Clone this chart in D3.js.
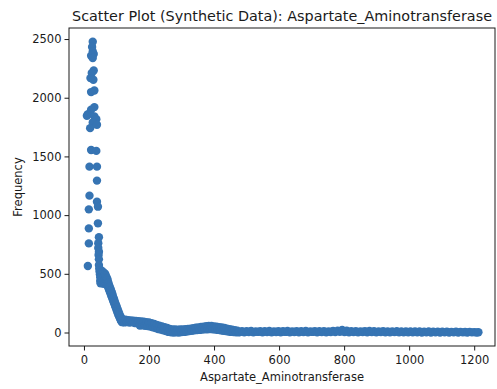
<!DOCTYPE html>
<html>
<head>
<meta charset="utf-8">
<script src="https://cdn.jsdelivr.net/npm/d3@7"></script>
<style>
  html, body { margin: 0; padding: 0; background: #fff; }
  svg { display: block; font-family: "DejaVu Sans", sans-serif; }
</style>
</head>
<body>
<svg id="chart" width="497" height="389"></svg>
<script>
// ---- Data ----
const titleText = "Scatter Plot (Synthetic Data): Aspartate_Aminotransferase";
const xLabel = "Aspartate_Aminotransferase";
const yLabel = "Frequency";
const xTicks = [0, 200, 400, 600, 800, 1000, 1200];
const yTicks = [0, 500, 1000, 1500, 2000, 2500];

// isolated points of the spike at low values
const spikeX = [27, 25, 27, 30, 22, 27, 30, 24, 20, 29, 32, 22, 32, 22, 12, 9, 32, 38, 27, 19, 40, 22, 38, 17, 40, 40, 17, 40, 15, 43, 43, 15, 46, 15, 44, 44, 46, 45, 46, 12, 46];
const spikeY = [2477, 2432, 2394, 2372, 2357, 2338, 2232, 2210, 2167, 2153, 2062, 2048, 1920, 1897, 1860, 1846, 1840, 1817, 1789, 1741, 1769, 1555, 1547, 1413, 1413, 1294, 1166, 1114, 1049, 1072, 930, 887, 811, 759, 760, 720, 688, 660, 623, 566, 574];

// dense band: shoulder and steep drop
const dropX = [47, 48, 49, 50, 50, 51, 52, 53, 54, 55, 56, 57, 58, 59, 60, 61, 62, 63, 64, 65, 66, 67, 68, 69, 70, 71, 72, 73, 74, 75, 76, 77, 78, 79, 80, 81, 82, 83, 84, 85, 86, 87, 88, 89, 90, 91, 92, 93, 94, 95, 96, 97, 98, 99, 100, 101, 102, 103, 104, 105, 106, 107, 108, 109, 110, 111, 112, 113, 114, 115, 116, 117, 118];
const dropY = [545, 520, 495, 470, 440, 420, 530, 455, 505, 480, 430, 520, 460, 495, 415, 510, 445, 480, 425, 500, 455, 485, 420, 470, 440, 460, 405, 445, 390, 425, 375, 405, 360, 390, 345, 375, 330, 360, 315, 345, 300, 330, 285, 310, 270, 295, 255, 280, 240, 260, 225, 245, 210, 230, 195, 215, 180, 200, 165, 185, 150, 170, 138, 155, 125, 142, 112, 130, 100, 120, 92, 112, 88];

// dense band: plateau, dip and bump
const midX = [120, 124, 128, 132, 136, 140, 144, 148, 152, 156, 160, 164, 168, 172, 176, 180, 184, 188, 192, 196, 200, 204, 208, 212, 216, 220, 224, 228, 232, 236, 240, 244, 248, 252, 256, 260, 264, 268, 272, 276, 280, 284, 288, 292, 296, 300, 304, 308, 312, 316, 320, 324, 328, 332, 336, 340, 344, 348, 352, 356, 360, 364, 368, 372, 376, 380, 384, 388, 392, 396, 400, 404, 408, 412, 416, 420, 424, 428, 432, 436, 440, 444, 448, 452, 456, 460, 464, 468, 472, 476];
const midY = [110, 86, 108, 90, 105, 85, 102, 88, 100, 80, 98, 78, 96, 60, 95, 62, 92, 58, 88, 55, 85, 50, 80, 45, 72, 38, 65, 30, 58, 25, 52, 18, 45, 12, 38, 5, 30, 2, 27, 0, 25, 2, 24, 0, 25, 3, 26, 5, 28, 8, 30, 12, 33, 15, 36, 18, 40, 20, 44, 22, 47, 25, 50, 27, 53, 28, 55, 30, 55, 28, 52, 25, 50, 22, 46, 18, 42, 15, 38, 12, 33, 8, 28, 5, 24, 3, 19, 1, 15, 2];

// dense band: long flat tail
const tailX = [479, 486, 493, 500, 507, 514, 521, 528, 535, 542, 549, 556, 563, 570, 577, 584, 591, 598, 605, 612, 619, 626, 633, 640, 647, 654, 661, 668, 675, 682, 689, 696, 703, 710, 717, 724, 731, 738, 745, 752, 759, 766, 773, 780, 787, 794, 801, 808, 815, 822, 829, 836, 843, 850, 857, 864, 871, 878, 885, 892, 899, 906, 913, 920, 927, 934, 941, 948, 955, 962, 969, 976, 983, 990, 997, 1004, 1011, 1018, 1025, 1032, 1039, 1046, 1053, 1060, 1067, 1074, 1081, 1088, 1095, 1102, 1109, 1116, 1123, 1130, 1137, 1144, 1151, 1158, 1165, 1172, 1179, 1186, 1193, 1200, 1207, 1213];
const tailY = [3, 12, 2, 11, 4, 13, 1, 10, 5, 12, 2, 11, 3, 13, 1, 10, 4, 12, 2, 11, 5, 13, 2, 10, 4, 12, 1, 11, 3, 13, 2, 10, 5, 12, 2, 11, 3, 12, 1, 10, 4, 13, 3, 16, 6, 22, 4, 15, 2, 12, 3, 11, 1, 10, 4, 12, 2, 14, 3, 11, 1, 10, 3, 12, 2, 9, 1, 10, 3, 11, 1, 9, 2, 10, 1, 8, 2, 9, 1, 8, 0, 7, 2, 8, 0, 7, 1, 6, 0, 7, 1, 6, 0, 5, 1, 6, 0, 5, 1, 4, 0, 5, 1, 3, 0, 2];

// ---- Build table from the arrays ----
const points = [];
[[spikeX, spikeY], [dropX, dropY], [midX, midY], [tailX, tailY]].forEach(([xs, ys]) => {
  xs.forEach((x, i) => points.push({ x: x, y: ys[i] }));
});

// ---- Layout ----
const svg = d3.select("#chart");
const L = 69, R = 495, T = 28, B = 346;
const textColor = "#1a1a1a";
const dotColor = "#3674b3";

const x = d3.scaleLinear().domain([-46, 1264]).range([L, R]);
const y = d3.scaleLinear().domain([-115, 2594]).range([B, T]);

// points
svg.append("g")
  .selectAll("circle")
  .data(points)
  .join("circle")
  .attr("cx", d => x(d.x))
  .attr("cy", d => y(d.y))
  .attr("r", 4.2)
  .attr("fill", dotColor);

// axes
const xAxis = svg.append("g")
  .attr("transform", `translate(0,${B})`)
  .call(d3.axisBottom(x).tickValues(xTicks).tickSize(4.5).tickPadding(3).tickFormat(d3.format("d")));
const yAxis = svg.append("g")
  .attr("transform", `translate(${L},0)`)
  .call(d3.axisLeft(y).tickValues(yTicks).tickSize(4.5).tickPadding(3).tickFormat(d3.format("d")));

[xAxis, yAxis].forEach(g => {
  g.select(".domain").remove();
  g.selectAll(".tick line").attr("stroke", textColor).attr("stroke-width", 1);
  g.selectAll(".tick text")
    .attr("fill", textColor)
    .style("font-family", "DejaVu Sans, sans-serif")
    .style("font-size", "11.5px");
});
xAxis.selectAll(".tick text").attr("dy", "0.95em");

// frame (spines)
svg.append("rect")
  .attr("x", L).attr("y", T)
  .attr("width", R - L).attr("height", B - T)
  .attr("fill", "none")
  .attr("stroke", textColor)
  .attr("stroke-width", 1);

// title
const title = svg.append("text")
  .attr("x", (L + R) / 2)
  .attr("y", 21)
  .attr("text-anchor", "middle")
  .attr("fill", textColor)
  .style("font-size", "13.8px")
  .text(titleText);
const tw = title.node().getComputedTextLength();
title.style("font-size", (13.8 * 420 / tw).toFixed(2) + "px");

// axis labels
svg.append("text")
  .attr("x", (L + R) / 2)
  .attr("y", 381)
  .attr("text-anchor", "middle")
  .attr("fill", textColor)
  .style("font-size", "11.5px")
  .text(xLabel);

svg.append("text")
  .attr("transform", `translate(22,${(T + B) / 2}) rotate(-90)`)
  .attr("text-anchor", "middle")
  .attr("fill", textColor)
  .style("font-size", "11.5px")
  .text(yLabel);
</script>
</body>
</html>
